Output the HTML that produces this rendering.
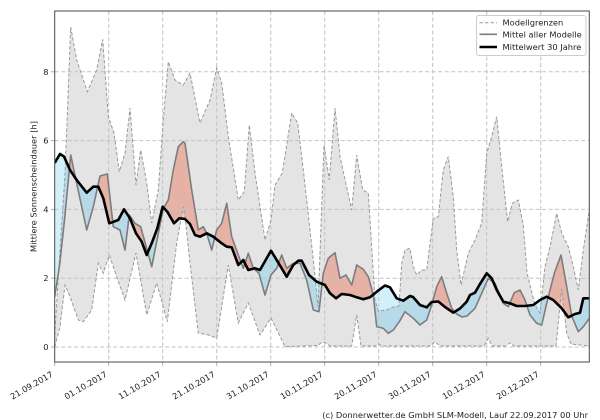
<!DOCTYPE html>
<html><head><meta charset="utf-8"><style>
html,body{margin:0;padding:0;background:#fff;}
svg{display:block;font-family:"DejaVu Sans","Liberation Sans",sans-serif;}
</style></head><body>
<svg width="600" height="420" viewBox="0 0 600 420" xmlns="http://www.w3.org/2000/svg">
<defs>
<clipPath id="ax"><rect x="54.7" y="11" width="534.6" height="351"/></clipPath>
<clipPath id="aboveClim"><polygon points="54.7,0 54.7,163 60,154 64,156.5 70,170 76.7,180 86.7,192.7 93.3,186.7 98.3,186.7 103.3,198.3 109.3,223.3 118.3,220 124,209.3 130,218.3 136,233.3 141.7,241.7 146.7,255 151.7,243.3 157.3,228.3 162.7,206.7 167.3,211.7 174,223.3 179.3,218.3 185,219 190,224 195,235 200,236.7 206.7,233.3 213.3,236.7 221.7,243.3 226.7,246.7 231.7,247.3 238.3,265 243.3,260 248.3,270 255,268.3 260,270 271,250.7 278.3,262.7 286.7,276.7 293.3,265 298.3,260.7 301.7,260.7 309,275 316.7,281.7 325,285 330,293.3 336,298.3 341.7,294 350,295 356.7,297.3 363.3,299.3 370,297.3 376.7,291.7 385,285.5 390,287.3 396.7,298.3 403.3,300.7 410,296 413,297 420,305 426.7,307.3 431.7,302 438.3,301.5 445,307 453.3,312.7 460,308.5 466.7,301.7 470,295 475,292.7 480,284 486.7,273.3 491.7,278.3 496.7,290 503.3,301.7 510,303.3 516.7,306 525,306 533.3,305 540,300 546.7,296.7 553.3,300 561.7,308.3 568.3,317.3 575,314 580,312.7 583.3,298.3 589.3,298.3 589.3,0"/></clipPath>
<clipPath id="belowClim"><polygon points="54.7,420 54.7,163 60,154 64,156.5 70,170 76.7,180 86.7,192.7 93.3,186.7 98.3,186.7 103.3,198.3 109.3,223.3 118.3,220 124,209.3 130,218.3 136,233.3 141.7,241.7 146.7,255 151.7,243.3 157.3,228.3 162.7,206.7 167.3,211.7 174,223.3 179.3,218.3 185,219 190,224 195,235 200,236.7 206.7,233.3 213.3,236.7 221.7,243.3 226.7,246.7 231.7,247.3 238.3,265 243.3,260 248.3,270 255,268.3 260,270 271,250.7 278.3,262.7 286.7,276.7 293.3,265 298.3,260.7 301.7,260.7 309,275 316.7,281.7 325,285 330,293.3 336,298.3 341.7,294 350,295 356.7,297.3 363.3,299.3 370,297.3 376.7,291.7 385,285.5 390,287.3 396.7,298.3 403.3,300.7 410,296 413,297 420,305 426.7,307.3 431.7,302 438.3,301.5 445,307 453.3,312.7 460,308.5 466.7,301.7 470,295 475,292.7 480,284 486.7,273.3 491.7,278.3 496.7,290 503.3,301.7 510,303.3 516.7,306 525,306 533.3,305 540,300 546.7,296.7 553.3,300 561.7,308.3 568.3,317.3 575,314 580,312.7 583.3,298.3 589.3,298.3 589.3,420"/></clipPath>
<clipPath id="band"><polygon points="54.7,335 60,250 65,175 70.7,27 76.7,60 87.3,91.7 96.7,70 102.7,39.3 108.3,116.7 114,133 119.3,171.7 125,153 130,108 136,185 140.7,150 146.7,183 151.7,223 158.3,190 163.3,120 168.3,61.7 175,80 183.3,85 190,73 200,123 210,100 216.7,68 221.7,83 228.3,136.7 238.3,200 244.3,191.7 249.3,125 255,173 265,240 271,220 275,185 282.3,173 291.7,113 297.7,123 303.3,170 313.3,260 318,307 324,145 329.3,180 335,108 340,156.7 351.7,210 356.7,155 362.7,190 368.3,193 375,300 378.3,311 386.7,310 393.3,307 399,306 401.7,263.3 405,250 410,248.3 413.3,266.7 416.7,275 421.7,270 426.7,270 433.3,218 438.3,216.7 443.3,170 448.3,156.7 453.3,196.7 456.7,250 461,285 468.3,253.3 475,240 481.7,223.3 486.7,153.3 491.7,136.7 496.7,116.7 501.7,166.7 507.7,221.7 512.3,203.3 518.3,200 523.3,225 527,273 535,305 540,313 545,266.7 550,246.7 556.7,213.3 561.7,233 568.3,246.7 573.3,266.7 578.3,290 583.3,250 589.3,210 589.3,346 571,344 566.7,333 561.7,289 556,346 514,346 510,343 505,346 492,346 488.3,338.3 484,346 440,346 435,341.7 430,346 382,346 378.3,344 375,346 361,346 356.7,315 351.7,346 330,346 326,343 322,342 318,345.5 285,346.5 271,318 260,335 248.3,303 238.3,323 228.3,265 216.7,338 208.3,335 198.3,333 190,263 185,216.7 183.3,206.7 176.7,243 167.3,321.7 156.7,283 146.7,315 136,253 125,300 116.7,276.7 109.3,255 103.3,273.3 98.3,263.3 91.7,310 83.3,321.7 78.3,320 70,296.7 65,285 60,326.7 54.7,347"/></clipPath>
<polygon id="belowMean" points="54.7,420 54.7,297 60,262 65,215 70.7,155 76.7,183.3 86.7,230 93.3,206.7 100,176 107.3,174 113.3,226.7 120,230 125,250 129.3,215 135,223.3 140.7,226.7 151.7,266.7 163.3,208.3 168.3,200 173.3,170 178.3,146.7 183.3,141.7 185,143 191.7,190 198.3,230 203.3,226.7 206.7,233.3 211.7,250 216.7,230 221.7,223.3 226.7,203.3 231.7,236.7 238.3,255 243.3,268.3 248.3,253.3 253.3,268.3 259,273.3 265,295 271,275 276.7,268.3 281.7,255 286.7,268.3 293.3,263.3 300,263.3 306.7,280 313.3,310 319,311.7 323.3,273.3 328.3,258.3 335,252.7 340,278.3 346,275 351.7,285 356.7,265 363.3,269.3 368.3,276.7 373.3,295 376.7,326.7 383.3,328.3 388.3,333.3 393.3,330 399.3,321.7 405,311.7 413.3,318.3 420,325 426.7,320 431.7,305 436.7,286.7 441.7,276.7 446.7,293.3 451.7,308.3 456.7,314 462,317 467,316 475,308.3 481.7,293.3 488.3,278.3 495,283.3 503.3,303.3 508.3,306.7 514.3,292.7 520,290 525,300 530,315 536.7,323.3 541.7,325 546.7,303.3 554.3,273.3 561,255 566.7,286.7 571.7,316 578.3,331.7 583.3,326.7 589.3,318.3 589.3,420"/>
<polygon id="aboveMean" points="54.7,0 54.7,297 60,262 65,215 70.7,155 76.7,183.3 86.7,230 93.3,206.7 100,176 107.3,174 113.3,226.7 120,230 125,250 129.3,215 135,223.3 140.7,226.7 151.7,266.7 163.3,208.3 168.3,200 173.3,170 178.3,146.7 183.3,141.7 185,143 191.7,190 198.3,230 203.3,226.7 206.7,233.3 211.7,250 216.7,230 221.7,223.3 226.7,203.3 231.7,236.7 238.3,255 243.3,268.3 248.3,253.3 253.3,268.3 259,273.3 265,295 271,275 276.7,268.3 281.7,255 286.7,268.3 293.3,263.3 300,263.3 306.7,280 313.3,310 319,311.7 323.3,273.3 328.3,258.3 335,252.7 340,278.3 346,275 351.7,285 356.7,265 363.3,269.3 368.3,276.7 373.3,295 376.7,326.7 383.3,328.3 388.3,333.3 393.3,330 399.3,321.7 405,311.7 413.3,318.3 420,325 426.7,320 431.7,305 436.7,286.7 441.7,276.7 446.7,293.3 451.7,308.3 456.7,314 462,317 467,316 475,308.3 481.7,293.3 488.3,278.3 495,283.3 503.3,303.3 508.3,306.7 514.3,292.7 520,290 525,300 530,315 536.7,323.3 541.7,325 546.7,303.3 554.3,273.3 561,255 566.7,286.7 571.7,316 578.3,331.7 583.3,326.7 589.3,318.3 589.3,0"/>
</defs>

<g clip-path="url(#ax)">
  <!-- grey model band -->
  <polygon fill="#e4e4e4" points="54.7,335 60,250 65,175 70.7,27 76.7,60 87.3,91.7 96.7,70 102.7,39.3 108.3,116.7 114,133 119.3,171.7 125,153 130,108 136,185 140.7,150 146.7,183 151.7,223 158.3,190 163.3,120 168.3,61.7 175,80 183.3,85 190,73 200,123 210,100 216.7,68 221.7,83 228.3,136.7 238.3,200 244.3,191.7 249.3,125 255,173 265,240 271,220 275,185 282.3,173 291.7,113 297.7,123 303.3,170 313.3,260 318,307 324,145 329.3,180 335,108 340,156.7 351.7,210 356.7,155 362.7,190 368.3,193 375,300 378.3,311 386.7,310 393.3,307 399,306 401.7,263.3 405,250 410,248.3 413.3,266.7 416.7,275 421.7,270 426.7,270 433.3,218 438.3,216.7 443.3,170 448.3,156.7 453.3,196.7 456.7,250 461,285 468.3,253.3 475,240 481.7,223.3 486.7,153.3 491.7,136.7 496.7,116.7 501.7,166.7 507.7,221.7 512.3,203.3 518.3,200 523.3,225 527,273 535,305 540,313 545,266.7 550,246.7 556.7,213.3 561.7,233 568.3,246.7 573.3,266.7 578.3,290 583.3,250 589.3,210 589.3,346 571,344 566.7,333 561.7,289 556,346 514,346 510,343 505,346 492,346 488.3,338.3 484,346 440,346 435,341.7 430,346 382,346 378.3,344 375,346 361,346 356.7,315 351.7,346 330,346 326,343 322,342 318,345.5 285,346.5 271,318 260,335 248.3,303 238.3,323 228.3,265 216.7,338 208.3,335 198.3,333 190,263 185,216.7 183.3,206.7 176.7,243 167.3,321.7 156.7,283 146.7,315 136,253 125,300 116.7,276.7 109.3,255 103.3,273.3 98.3,263.3 91.7,310 83.3,321.7 78.3,320 70,296.7 65,285 60,326.7 54.7,347"/>

  <!-- light fills (outside band) -->
  <g clip-path="url(#aboveClim)"><use href="#belowMean" fill="#f4c6ba"/></g>
  <g clip-path="url(#belowClim)"><use href="#aboveMean" fill="#d3effa"/></g>
  <!-- darker fills inside band -->
  <g clip-path="url(#band)">
    <g clip-path="url(#aboveClim)"><use href="#belowMean" fill="#e6b2a5"/></g>
    <g clip-path="url(#belowClim)"><use href="#aboveMean" fill="#b7dae8"/></g>
  </g>

  <!-- grid -->
  <g stroke="#c2c2c2" stroke-width="1" stroke-dasharray="4,2.5" fill="none">
    <line x1="54.7" y1="347" x2="589.3" y2="347"/>
    <line x1="54.7" y1="278.2" x2="589.3" y2="278.2"/>
    <line x1="54.7" y1="209.4" x2="589.3" y2="209.4"/>
    <line x1="54.7" y1="140.6" x2="589.3" y2="140.6"/>
    <line x1="54.7" y1="71.8" x2="589.3" y2="71.8"/>
    <line x1="108.7" y1="11" x2="108.7" y2="362"/>
    <line x1="162.7" y1="11" x2="162.7" y2="362"/>
    <line x1="216.7" y1="11" x2="216.7" y2="362"/>
    <line x1="270.7" y1="11" x2="270.7" y2="362"/>
    <line x1="324.7" y1="11" x2="324.7" y2="362"/>
    <line x1="378.7" y1="11" x2="378.7" y2="362"/>
    <line x1="432.7" y1="11" x2="432.7" y2="362"/>
    <line x1="486.7" y1="11" x2="486.7" y2="362"/>
    <line x1="540.7" y1="11" x2="540.7" y2="362"/>
  </g>

  <!-- model bounds dashed -->
  <g stroke="#9a9a9a" stroke-width="1" stroke-dasharray="3.5,2" fill="none">
    <polyline points="54.7,335 60,250 65,175 70.7,27 76.7,60 87.3,91.7 96.7,70 102.7,39.3 108.3,116.7 114,133 119.3,171.7 125,153 130,108 136,185 140.7,150 146.7,183 151.7,223 158.3,190 163.3,120 168.3,61.7 175,80 183.3,85 190,73 200,123 210,100 216.7,68 221.7,83 228.3,136.7 238.3,200 244.3,191.7 249.3,125 255,173 265,240 271,220 275,185 282.3,173 291.7,113 297.7,123 303.3,170 313.3,260 318,307 324,145 329.3,180 335,108 340,156.7 351.7,210 356.7,155 362.7,190 368.3,193 375,300 378.3,311 386.7,310 393.3,307 399,306 401.7,263.3 405,250 410,248.3 413.3,266.7 416.7,275 421.7,270 426.7,270 433.3,218 438.3,216.7 443.3,170 448.3,156.7 453.3,196.7 456.7,250 461,285 468.3,253.3 475,240 481.7,223.3 486.7,153.3 491.7,136.7 496.7,116.7 501.7,166.7 507.7,221.7 512.3,203.3 518.3,200 523.3,225 527,273 535,305 540,313 545,266.7 550,246.7 556.7,213.3 561.7,233 568.3,246.7 573.3,266.7 578.3,290 583.3,250 589.3,210"/>
    <polyline points="54.7,347 60,326.7 65,285 70,296.7 78.3,320 83.3,321.7 91.7,310 98.3,263.3 103.3,273.3 109.3,255 116.7,276.7 125,300 136,253 146.7,315 156.7,283 167.3,321.7 176.7,243 183.3,206.7 185,216.7 190,263 198.3,333 208.3,335 216.7,338 228.3,265 238.3,323 248.3,303 260,335 271,318 285,346.5 318,345.5 322,342 326,343 330,346 351.7,346 356.7,315 361,346 375,346 378.3,344 382,346 430,346 435,341.7 440,346 484,346 488.3,338.3 492,346 505,346 510,343 514,346 556,346 561.7,289 566.7,333 571,344 589.3,346"/>
  </g>

  <!-- mean of all models -->
  <polyline fill="none" stroke="#7d7d7d" stroke-width="1.6" stroke-linejoin="round" points="54.7,297 60,262 65,215 70.7,155 76.7,183.3 86.7,230 93.3,206.7 100,176 107.3,174 113.3,226.7 120,230 125,250 129.3,215 135,223.3 140.7,226.7 151.7,266.7 163.3,208.3 168.3,200 173.3,170 178.3,146.7 183.3,141.7 185,143 191.7,190 198.3,230 203.3,226.7 206.7,233.3 211.7,250 216.7,230 221.7,223.3 226.7,203.3 231.7,236.7 238.3,255 243.3,268.3 248.3,253.3 253.3,268.3 259,273.3 265,295 271,275 276.7,268.3 281.7,255 286.7,268.3 293.3,263.3 300,263.3 306.7,280 313.3,310 319,311.7 323.3,273.3 328.3,258.3 335,252.7 340,278.3 346,275 351.7,285 356.7,265 363.3,269.3 368.3,276.7 373.3,295 376.7,326.7 383.3,328.3 388.3,333.3 393.3,330 399.3,321.7 405,311.7 413.3,318.3 420,325 426.7,320 431.7,305 436.7,286.7 441.7,276.7 446.7,293.3 451.7,308.3 456.7,314 462,317 467,316 475,308.3 481.7,293.3 488.3,278.3 495,283.3 503.3,303.3 508.3,306.7 514.3,292.7 520,290 525,300 530,315 536.7,323.3 541.7,325 546.7,303.3 554.3,273.3 561,255 566.7,286.7 571.7,316 578.3,331.7 583.3,326.7 589.3,318.3"/>

  <!-- 30-year climatology -->
  <polyline fill="none" stroke="#000" stroke-width="2.6" stroke-linejoin="round" points="54.7,163 60,154 64,156.5 70,170 76.7,180 86.7,192.7 93.3,186.7 98.3,186.7 103.3,198.3 109.3,223.3 118.3,220 124,209.3 130,218.3 136,233.3 141.7,241.7 146.7,255 151.7,243.3 157.3,228.3 162.7,206.7 167.3,211.7 174,223.3 179.3,218.3 185,219 190,224 195,235 200,236.7 206.7,233.3 213.3,236.7 221.7,243.3 226.7,246.7 231.7,247.3 238.3,265 243.3,260 248.3,270 255,268.3 260,270 271,250.7 278.3,262.7 286.7,276.7 293.3,265 298.3,260.7 301.7,260.7 309,275 316.7,281.7 325,285 330,293.3 336,298.3 341.7,294 350,295 356.7,297.3 363.3,299.3 370,297.3 376.7,291.7 385,285.5 390,287.3 396.7,298.3 403.3,300.7 410,296 413,297 420,305 426.7,307.3 431.7,302 438.3,301.5 445,307 453.3,312.7 460,308.5 466.7,301.7 470,295 475,292.7 480,284 486.7,273.3 491.7,278.3 496.7,290 503.3,301.7 510,303.3 516.7,306 525,306 533.3,305 540,300 546.7,296.7 553.3,300 561.7,308.3 568.3,317.3 575,314 580,312.7 583.3,298.3 589.3,298.3"/>
</g>

<!-- ticks -->
<g stroke="#b0b0b0" stroke-width="1">
  <line x1="51" y1="347" x2="54.7" y2="347"/>
  <line x1="51" y1="278.2" x2="54.7" y2="278.2"/>
  <line x1="51" y1="209.4" x2="54.7" y2="209.4"/>
  <line x1="51" y1="140.6" x2="54.7" y2="140.6"/>
  <line x1="51" y1="71.8" x2="54.7" y2="71.8"/>
  <line x1="54.7" y1="362" x2="54.7" y2="366"/>
  <line x1="108.7" y1="362" x2="108.7" y2="366"/>
  <line x1="162.7" y1="362" x2="162.7" y2="366"/>
  <line x1="216.7" y1="362" x2="216.7" y2="366"/>
  <line x1="270.7" y1="362" x2="270.7" y2="366"/>
  <line x1="324.7" y1="362" x2="324.7" y2="366"/>
  <line x1="378.7" y1="362" x2="378.7" y2="366"/>
  <line x1="432.7" y1="362" x2="432.7" y2="366"/>
  <line x1="486.7" y1="362" x2="486.7" y2="366"/>
  <line x1="540.7" y1="362" x2="540.7" y2="366"/>
</g>

<!-- frame -->
<rect x="54.7" y="11" width="534.6" height="351" fill="none" stroke="#4a4a4a" stroke-width="1"/>

<!-- y tick labels -->
<g font-size="8.3" fill="#222" text-anchor="end">
  <text x="48.5" y="350">0</text>
  <text x="48.5" y="281.2">2</text>
  <text x="48.5" y="212.4">4</text>
  <text x="48.5" y="143.6">6</text>
  <text x="48.5" y="74.8">8</text>
</g>
<text x="36.5" y="186.5" font-size="8.3" fill="#222" text-anchor="middle" transform="rotate(-90 36.5 186.5)">Mittlere Sonnenscheindauer [h]</text>

<!-- x tick labels -->
<g font-size="8.3" fill="#222" text-anchor="end">
  <text x="53.7" y="376" transform="rotate(-30 53.7 376)">21.09.2017</text>
  <text x="107.7" y="376" transform="rotate(-30 107.7 376)">01.10.2017</text>
  <text x="161.7" y="376" transform="rotate(-30 161.7 376)">11.10.2017</text>
  <text x="215.7" y="376" transform="rotate(-30 215.7 376)">21.10.2017</text>
  <text x="269.7" y="376" transform="rotate(-30 269.7 376)">31.10.2017</text>
  <text x="323.7" y="376" transform="rotate(-30 323.7 376)">10.11.2017</text>
  <text x="377.7" y="376" transform="rotate(-30 377.7 376)">20.11.2017</text>
  <text x="431.7" y="376" transform="rotate(-30 431.7 376)">30.11.2017</text>
  <text x="485.7" y="376" transform="rotate(-30 485.7 376)">10.12.2017</text>
  <text x="539.7" y="376" transform="rotate(-30 539.7 376)">20.12.2017</text>
</g>

<!-- legend -->
<rect x="476.5" y="15.5" width="109.5" height="40" rx="2.5" fill="#fff" fill-opacity="0.85" stroke="#cccccc" stroke-width="1"/>
<line x1="479.5" y1="22.7" x2="497" y2="22.7" stroke="#9a9a9a" stroke-width="1" stroke-dasharray="3.5,2"/>
<line x1="479.5" y1="34.3" x2="497" y2="34.3" stroke="#7d7d7d" stroke-width="1.6"/>
<line x1="479.5" y1="47" x2="497" y2="47" stroke="#000" stroke-width="2.6"/>
<g font-size="8.3" fill="#222">
  <text x="502.5" y="25.7">Modellgrenzen</text>
  <text x="502.5" y="37.3">Mittel aller Modelle</text>
  <text x="502.5" y="50">Mittelwert 30 Jahre</text>
</g>

<!-- credit -->
<text x="588" y="418" font-size="8.3" fill="#222" text-anchor="end">(c) Donnerwetter.de GmbH SLM-Modell, Lauf 22.09.2017 00 Uhr</text>
</svg>
</body></html>
